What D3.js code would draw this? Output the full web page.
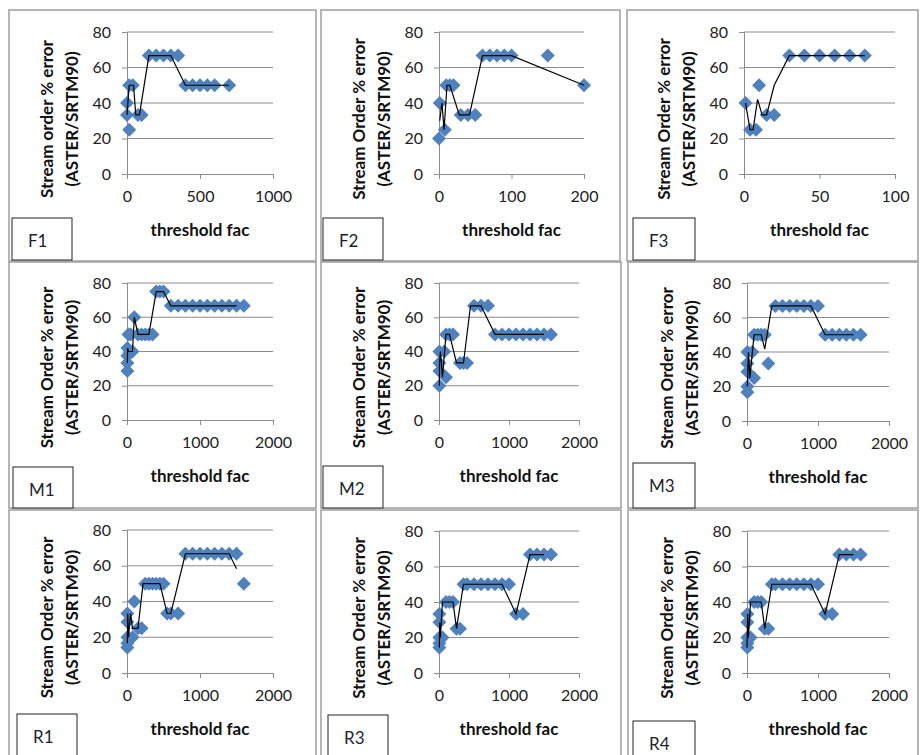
<!DOCTYPE html>
<html><head><meta charset="utf-8">
<script src="https://cdn.jsdelivr.net/npm/d3@7"></script>
<style>body{margin:0;background:#fff}svg{display:block}</style>
</head><body>
<svg id="c" width="921" height="755"></svg>
<script>
// ---------- data ----------
const panelNames = ["F1","F2","F3","M1","M2","M3","R1","R3","R4"];
const yTitles = ["Stream order % error","Stream Order % error","Stream Order % error",
  "Stream Order % error","Stream Order % error","Stream Order % error",
  "Stream Order % error","Stream Order % error","Stream Order % error"];
const yTitle2 = "(ASTER/SRTM90)";
const xTitle = "threshold fac";
const yTicks = [0,20,40,60,80];
const xTicksF1 = [0,500,1000];
const xTicksF2 = [0,100,200];
const xTicksF3 = [0,50,100];
const xTicksMR = [0,1000,2000];

const F1_points = [[0,40],[0,33.3],[15,25],[15,50],[40,50],[75,33.3],[100,33.3],[150,66.7],[200,66.7],[250,66.7],[300,66.7],[350,66.7],[400,50],[450,50],[500,50],[550,50],[600,50],[700,50]];
const F1_line = [[0,33.3],[15,50],[45,50],[60,33.3],[85,33.3],[150,66.7],[300,66.7],[400,50],[700,50]];

const F2_points = [[1,40],[0,20],[8,25],[10,50],[15,50],[20,50],[30,33.3],[40,33.3],[50,33.3],[60,66.7],[70,66.7],[80,66.7],[90,66.7],[100,66.7],[150,66.7],[200,50]];
const F2_line = [[1,30],[4,40],[7,25],[11,50],[15,50],[28,33.3],[42,33.3],[60,66.7],[100,66.7],[200,50]];

const F3_points = [[1,40],[4,25],[8,25],[10,50],[15,33.3],[20,33.3],[30,66.7],[40,66.7],[50,66.7],[60,66.7],[70,66.7],[80,66.7]];
const F3_line = [[1,40],[4,25],[6,25],[9,42],[12,33.3],[15,33.3],[20,50],[30,66.7],[80,66.7]];

const M1_points = [[5,42],[5,37.5],[5,33.3],[5,28.6],[20,50],[50,50],[75,40],[100,60],[150,50],[200,50],[250,50],[300,50],[350,50],[400,75],[450,75],[500,75],
  [600,66.7],[700,66.7],[800,66.7],[900,66.7],[1000,66.7],[1100,66.7],[1200,66.7],[1300,66.7],[1400,66.7],[1500,66.7],[1600,66.7]];
const M1_line = [[5,33.3],[8,42],[20,40],[75,40],[100,60],[150,50],[300,50],[400,75],[500,75],[600,66.7],[1500,66.7]];

const M2_points = [[5,40],[5,33.3],[5,28.6],[5,20],[75,40],[100,25],[100,50],[150,50],[200,50],[300,33.3],[350,33.3],[400,33.3],[500,66.7],[600,66.7],[700,66.7],
  [800,50],[900,50],[1000,50],[1100,50],[1200,50],[1300,50],[1400,50],[1500,50],[1600,50]];
const M2_line = [[5,20],[8,33.3],[20,40],[50,25],[100,50],[150,50],[250,33.3],[350,33.3],[450,66.7],[600,66.7],[800,50],[1500,50]];

const M3_points = [[5,40],[5,33.3],[5,28.6],[5,20],[5,16.7],[75,40],[100,25],[100,50],[150,50],[200,50],[250,50],[300,33.3],
  [400,66.7],[500,66.7],[600,66.7],[700,66.7],[800,66.7],[900,66.7],[1000,66.7],
  [1100,50],[1200,50],[1300,50],[1400,50],[1500,50],[1600,50]];
const M3_line = [[5,20],[20,40],[40,25],[60,33.3],[100,50],[200,50],[250,41.7],[350,66.7],[900,66.7],[1100,50],[1500,50]];

const R1_points = [[5,33.3],[5,28.6],[5,20],[5,16.7],[5,14.3],[75,20],[100,40],[150,25],[200,25],[250,50],[300,50],[350,50],[400,50],[450,50],[500,50],
  [550,33.3],[600,33.3],[700,33.3],[800,66.7],[900,66.7],[1000,66.7],[1100,66.7],[1200,66.7],[1300,66.7],[1400,66.7],[1500,66.7],[1600,50]];
const R1_line = [[5,16.7],[10,33.3],[20,20],[50,33.3],[75,25],[150,25],[220,50],[450,50],[550,33.3],[600,33.3],[800,66.7],[1400,66.7],[1500,58.3]];

const R3_points = [[5,33.3],[5,28.6],[5,20],[5,16.7],[5,14.3],[50,20],[100,40],[150,40],[200,40],[250,25],[300,25],
  [350,50],[400,50],[500,50],[600,50],[700,50],[800,50],[900,50],[1000,50],[1100,33.3],[1200,33.3],[1300,66.7],[1400,66.7],[1500,66.7],[1600,66.7]];
const R3_line = [[5,14.3],[10,28.6],[20,20],[50,40],[200,40],[250,25],[350,50],[900,50],[1100,33.3],[1300,66.7],[1500,66.7]];

const R4_points = [[5,33.3],[5,28.6],[5,20],[5,16.7],[5,14.3],[50,20],[100,40],[150,40],[200,40],[250,25],[300,25],
  [350,50],[400,50],[500,50],[600,50],[700,50],[800,50],[900,50],[1000,50],[1100,33.3],[1200,33.3],[1300,66.7],[1400,66.7],[1500,66.7],[1600,66.7]];
const R4_line = [[0,14.3],[10,33.3],[20,20],[50,40],[200,40],[250,25],[350,50],[900,50],[1100,33.3],[1300,66.7],[1500,66.7]];

const allPoints = [F1_points,F2_points,F3_points,M1_points,M2_points,M3_points,R1_points,R3_points,R4_points];
const allLines = [F1_line,F2_line,F3_line,M1_line,M2_line,M3_line,R1_line,R3_line,R4_line];
const allXTicks = [xTicksF1,xTicksF2,xTicksF3,xTicksMR,xTicksMR,xTicksMR,xTicksMR,xTicksMR,xTicksMR];

// ---------- layout (pixels) ----------
const frames = [[9,10,307,251],[321,10,299,251],[627,10,291,251],
                [9,262,307,246],[321,262,300,246],[628,262,290,246],
                [9,510,307,250],[321,510,300,250],[628,510,290,250]];
const plots = [[127,273,32,174],[439,584,32,174],[744,895,32,174],
               [127,273,283,420],[439,579,283,420],[747,889,283,421],
               [127,273,530,673],[439,579,531,673],[747,889,531,673]];
const labelBoxes = [[12,218,60,42],[323,218,60,42],[633,218,62,42],
                    [13,467,60,41],[323,466,60,42],[633,463,62,45],
                    [17,714,60,50],[328,715,60,50],[633,721,62,50]];

const FONT = "Lato, 'Open Sans', sans-serif";
const svg = d3.select("#c");

// frames
svg.selectAll("rect.frame").data(frames).enter().append("rect")
  .attr("x",d=>d[0]).attr("y",d=>d[1]).attr("width",d=>d[2]).attr("height",d=>d[3])
  .attr("fill","#fff").attr("stroke","#a3a3a3").attr("stroke-width",1.6);

panelNames.forEach((name,i)=>{
  const [x0,x1,y0,y1] = plots[i];
  const ticks = allXTicks[i];
  const x = d3.scaleLinear().domain([0,ticks[ticks.length-1]]).range([x0,x1]);
  const y = d3.scaleLinear().domain([0,80]).range([y1,y0]);
  const g = svg.append("g");

  // gridlines
  g.selectAll("line.grid").data(yTicks.slice(1)).enter().append("line")
    .attr("x1",x0).attr("x2",x1).attr("y1",d=>y(d)).attr("y2",d=>y(d))
    .attr("stroke","#8c8c8c").attr("stroke-width",1);

  // y axis
  const ya = g.append("g").attr("transform",`translate(${x0},0)`)
    .call(d3.axisLeft(y).tickValues(yTicks).tickSize(5).tickPadding(11));
  ya.select(".domain").attr("stroke","#8c8c8c");
  ya.selectAll(".tick line").attr("stroke","#8c8c8c");
  ya.selectAll("text").attr("font-family",FONT).attr("font-size",16).attr("fill","#222");

  // x axis
  const xa = g.append("g").attr("transform",`translate(0,${y1})`)
    .call(d3.axisBottom(x).tickValues(ticks).tickSize(5).tickPadding(12).tickFormat(d3.format("d")));
  xa.select(".domain").attr("stroke","#8c8c8c");
  xa.selectAll(".tick line").attr("stroke","#8c8c8c");
  xa.selectAll("text").attr("font-family",FONT).attr("font-size",16).attr("fill","#222");

  // markers
  const r = 7;
  g.selectAll("path.pt").data(allPoints[i]).enter().append("path")
    .attr("d",`M0,${-r}L${r},0L0,${r}L${-r},0Z`)
    .attr("transform",d=>`translate(${x(d[0])},${y(d[1])})`)
    .attr("fill","#4f81bd");

  // line
  g.append("path").datum(allLines[i])
    .attr("d",d3.line().x(d=>x(d[0])).y(d=>y(d[1])))
    .attr("fill","none").attr("stroke","#000").attr("stroke-width",1.2);

  // x title
  g.append("text").attr("x",(x0+x1)/2).attr("y",y1+55).attr("text-anchor","middle")
    .attr("dominant-baseline","central")
    .attr("font-family",FONT).attr("font-weight","bold").attr("font-size",17).attr("fill","#111")
    .text(xTitle);

  // y titles
  const cy = (y0+y1)/2 + 16;
  g.append("text").attr("transform",`translate(${x0-81},${cy}) rotate(-90)`)
    .attr("text-anchor","middle").attr("dominant-baseline","central")
    .attr("font-family",FONT).attr("font-weight","bold").attr("font-size",17).attr("fill","#111")
    .text(yTitles[i]);
  g.append("text").attr("transform",`translate(${x0-56},${cy}) rotate(-90)`)
    .attr("text-anchor","middle").attr("dominant-baseline","central")
    .attr("font-family",FONT).attr("font-weight","bold").attr("font-size",17).attr("fill","#111")
    .text(yTitle2);
});

// label boxes
labelBoxes.forEach((b,i)=>{
  svg.append("rect").attr("x",b[0]).attr("y",b[1]).attr("width",b[2]).attr("height",b[3])
    .attr("fill","#fff").attr("stroke","#222").attr("stroke-width",1);
  svg.append("text").attr("x",b[0]+16).attr("y",b[1]+22).attr("dominant-baseline","central")
    .attr("font-family",FONT).attr("font-size",17).attr("fill","#1f1f2f").text(panelNames[i]);
});
</script>
</body></html>
